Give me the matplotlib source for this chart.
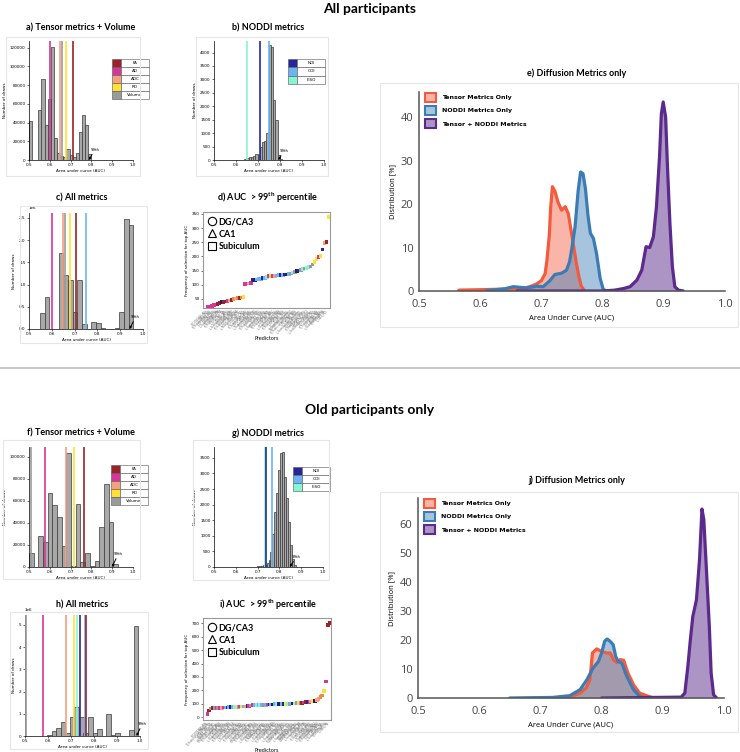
import matplotlib
matplotlib.use("Agg")
import matplotlib.pyplot as plt
from matplotlib.patches import Patch, Rectangle
from matplotlib.lines import Line2D

plt.rcParams["mathtext.fontset"] = "custom"
plt.rcParams["mathtext.rm"] = "Lato:bold"
plt.rcParams["mathtext.bf"] = "Lato:bold"

W, H = 740, 752

metric_colors = {
    "FA": "#9b2226", "AD": "#d6359a", "ADC": "#f5a07f", "RD": "#ffe135",
    "Volume": "#9a9a9a", "NDI": "#27279a", "ODI": "#6cb4f5", "FISO": "#86f5d3",
    "ORG": "#f08a3c", "NAVY": "#1f1f6e",
}
kde_colors = {"tensor": "#f35b3f", "noddi": "#3b7cb5", "both": "#5b2a8c"}

# ---- a) tensor + volume, all participants
a_left = [0.500, 0.545, 0.560, 0.575, 0.590, 0.605, 0.620, 0.635, 0.650,
          0.665, 0.680, 0.695, 0.710, 0.725, 0.740, 0.755, 0.770, 0.785]
a_counts = [42000, 53000, 86000, 37000, 65000, 121000, 24000, 7000, 4000,
            3000, 12000, 5000, 3000, 7000, 30000, 48000, 37000, 6000]
a_lines = [("AD", 0.600), ("ADC", 0.650), ("Volume", 0.660), ("RD", 0.680), ("FA", 0.710)]

# ---- b) NODDI, all participants
b_left = [0.637, 0.647, 0.657, 0.667, 0.677, 0.688, 0.698, 0.708, 0.718,
          0.728, 0.738, 0.748, 0.758, 0.769, 0.779, 0.789, 0.799]
b_counts = [20, 60, 100, 110, 150, 220, 180, 470, 680,
            700, 1015, 4270, 4210, 2250, 1490, 190, 40]
b_lines = [("FISO", 0.650), ("NDI", 0.707), ("ODI", 0.748)]

# ---- c) all metrics, all participants
c_left = [0.548, 0.5685, 0.589, 0.6095, 0.630, 0.6505, 0.671, 0.6915, 0.712, 0.7325,
          0.753, 0.7735, 0.794, 0.8145, 0.835, 0.8555, 0.876, 0.8965, 0.917, 0.9375]
c_counts = [370000, 710000, 0, 10000, 1700000, 1220000, 1110000, 380000, 1110000, 120000,
            0, 150000, 130000, 30000, 0, 0, 30000, 380000, 2470000, 2350000]
c_lines = [("AD", 0.600), ("ADC", 0.650), ("Volume", 0.660), ("RD", 0.682),
           ("FA", 0.708), ("ODI", 0.749)]

# ---- f) tensor + volume, old participants
f_left = [0.500, 0.5225, 0.545, 0.5675, 0.590, 0.6125, 0.635, 0.6575, 0.680, 0.7025,
          0.725, 0.7475, 0.770, 0.7925, 0.815, 0.8375, 0.860, 0.8825, 0.905]
f_counts = [13000, 0, 28000, 22500, 67000, 56000, 45000, 19000, 104000, 500,
            57000, 4500, 13000, 1000, 5000, 36000, 75000, 41000, 3000]
f_lines = [("Volume", 0.511), ("AD", 0.575), ("ADC", 0.676), ("RD", 0.715), ("FA", 0.764)]

# ---- g) NODDI, old participants
g_left = [0.660, 0.669, 0.678, 0.687, 0.696, 0.705, 0.714, 0.723, 0.732, 0.741,
          0.750, 0.759, 0.768, 0.777, 0.786, 0.795, 0.804, 0.813, 0.822, 0.831,
          0.840, 0.849, 0.858, 0.867]
g_counts = [10, 10, 15, 15, 20, 25, 40, 60, 80, 130,
            230, 470, 1050, 1780, 2360, 3100, 3650, 3700, 2900, 2200,
            1450, 700, 250, 60]
g_lines = [("FISO", 0.734), ("NDI", 0.738), ("ODI", 0.767)]

# ---- h) all metrics, old participants
h_left = [0.596, 0.616, 0.636, 0.655, 0.675, 0.695, 0.715, 0.735, 0.754, 0.774,
          0.794, 0.814, 0.834, 0.853, 0.873, 0.893, 0.913, 0.933, 0.952, 0.972]
h_counts = [30000, 220000, 380000, 650000, 150000, 870000, 1320000, 870000, 150000, 870000,
            130000, 330000, 0, 970000, 30000, 120000, 0, 0, 280000, 4970000]
h_lines = [("Volume", 0.506), ("AD", 0.577), ("ADC", 0.679), ("RD", 0.715), ("FISO", 0.725),
           ("NDI", 0.737), ("ODI", 0.762), ("FA", 0.766)]

# ---- d) / i) predictor selection frequency
d_freq = [22, 23, 25, 28, 30, 31, 35, 38, 40, 41,
          42, 45, 46, 50, 52, 53, 54, 55, 58, 103,
          104, 105, 107, 117, 118, 119, 120, 121, 123, 125,
          127, 130, 131, 132, 132, 133, 134, 135, 135, 136,
          136, 137, 140, 143, 146, 148, 150, 152, 155, 158,
          160, 162, 165, 172, 180, 190, 197, 202, 225, 248,
          250, 340]
d_cols = ["AD", "AD", "AD", "AD", "AD", "FA", "FA", "NAVY", "FA", "FA",
          "AD", "ADC", "FA", "ORG", "ADC", "ORG", "FA", "ORG", "RD", "AD",
          "AD", "ADC", "AD", "NDI", "NAVY", "ODI", "ODI", "ODI", "NDI", "ODI",
          "FISO", "AD", "RD", "AD", "ADC", "ODI", "ODI", "NDI", "ODI", "NDI",
          "NAVY", "ODI", "Volume", "FISO", "Volume", "NAVY", "NDI", "Volume", "FISO", "Volume",
          "FISO", "FISO", "Volume", "Volume", "RD", "RD", "AD", "RD", "NDI", "ADC",
          "FA", "RD"]
i_freq = [25, 50, 65, 66, 67, 68, 69, 70, 70, 71,
          72, 72, 73, 74, 75, 75, 76, 77, 78, 78,
          79, 80, 82, 84, 86, 88, 88, 89, 90, 90,
          91, 92, 92, 93, 94, 95, 95, 96, 96, 97,
          98, 98, 99, 100, 100, 100, 101, 101, 102, 103,
          104, 105, 106, 108, 110, 110, 112, 115, 118, 122,
          128, 135, 148, 160, 195, 265, 690, 702]
i_cols = ["AD", "FA", "Volume", "FA", "Volume", "AD", "Volume", "AD", "ADC", "AD",
          "ODI", "NDI", "ODI", "NAVY", "ODI", "FISO", "RD", "ODI", "AD", "RD",
          "ODI", "ADC", "NDI", "AD", "Volume", "AD", "ODI", "FISO", "ODI", "FISO",
          "ODI", "Volume", "ODI", "AD", "NDI", "ODI", "NAVY", "ODI", "FISO", "NDI",
          "NAVY", "ODI", "NDI", "RD", "FISO", "Volume", "ODI", "NAVY", "FISO", "Volume",
          "RD", "Volume", "FA", "AD", "FA", "NDI", "AD", "ADC", "RD", "NAVY",
          "ADC", "ADC", "ORG", "ORG", "RD", "AD", "FA", "FA"]
regions = ["DG/CA3", "CA1", "Subiculum"]

# ---- e) / j) AUC distributions (%)
e_tensor_x = [0.565, 0.60, 0.63, 0.67, 0.681, 0.692, 0.70, 0.706, 0.709, 0.713, 0.715, 0.718,
              0.722, 0.727, 0.733, 0.739, 0.744, 0.749, 0.753, 0.757, 0.761, 0.765, 0.770]
e_tensor_y = [0.2, 0.3, 0.4, 0.6, 1.0, 1.6, 2.4, 4.0, 7.0, 13.0, 19.0, 24.0,
              23.0, 20.5, 18.6, 19.4, 17.8, 13.5, 10.0, 6.5, 3.5, 1.2, 0.1]
e_noddi_x = [0.61, 0.64, 0.654, 0.676, 0.692, 0.703, 0.714, 0.722, 0.733, 0.741, 0.746, 0.750,
             0.755, 0.760, 0.764, 0.768, 0.772, 0.776, 0.780, 0.785, 0.790, 0.796, 0.801, 0.806]
e_noddi_y = [0.1, 0.5, 1.0, 0.7, 1.1, 1.0, 2.4, 3.8, 4.1, 4.8, 6.7, 10.0,
             14.8, 23.0, 27.4, 27.0, 23.5, 17.5, 13.3, 12.1, 8.7, 2.9, 0.4, 0.0]
e_both_x = [0.66, 0.80, 0.82, 0.835, 0.845, 0.856, 0.864, 0.868, 0.871, 0.877, 0.883, 0.888,
            0.893, 0.896, 0.899, 0.903, 0.906, 0.910, 0.914, 0.918, 0.924, 0.932]
e_both_y = [0.0, 0.0, 0.2, 0.6, 1.0, 2.5, 4.8, 7.9, 10.2, 10.0, 12.5, 19.4,
            30.9, 40.8, 43.5, 40.0, 28.6, 15.6, 5.6, 1.0, 0.2, 0.0]

j_tensor_x = [0.72, 0.75, 0.765, 0.775, 0.781, 0.785, 0.792, 0.80, 0.808, 0.814, 0.82, 0.825,
              0.830, 0.836, 0.843, 0.852, 0.862, 0.876, 0.885]
j_tensor_y = [0.0, 0.5, 1.7, 3.5, 6.3, 15.5, 16.9, 16.0, 15.5, 15.5, 13.0, 12.2,
              13.2, 13.0, 8.6, 4.6, 1.7, 0.6, 0.0]
j_noddi_x = [0.65, 0.72, 0.748, 0.765, 0.776, 0.786, 0.795, 0.80, 0.805, 0.809, 0.814, 0.819,
             0.823, 0.827, 0.833, 0.841, 0.852, 0.862, 0.870]
j_noddi_y = [0.0, 0.2, 0.8, 2.9, 6.3, 10.3, 12.6, 15.5, 19.5, 20.3, 19.5, 18.3,
             14.3, 12.6, 12.0, 7.5, 2.9, 0.6, 0.0]
j_both_x = [0.80, 0.93, 0.936, 0.941, 0.945, 0.949, 0.955, 0.960, 0.964, 0.967, 0.971, 0.976,
            0.979, 0.983, 0.988]
j_both_y = [0.0, 0.3, 1.7, 11.0, 20.0, 28.0, 33.8, 47.6, 65.0, 61.4, 45.3, 24.7,
            8.6, 1.1, 0.0]

auc_ticks = [0.5, 0.6, 0.7, 0.8, 0.9, 1.0]


def box(x0, y0, x1, y1):
    return [x0 / W, 1 - y1 / H, (x1 - x0) / W, (y1 - y0) / H]


fig = plt.figure(figsize=(W / 100, H / 100), dpi=100)


def frame(x0, y0, x1, y1):
    fig.add_artist(Rectangle((x0 / W, 1 - y1 / H), (x1 - x0) / W, (y1 - y0) / H,
                             transform=fig.transFigure, fill=False,
                             edgecolor="#e6e6e6", lw=0.8))


def ftext(x, y, s, size, **kw):
    fig.text(x / W, 1 - y / H, s, ha="center", va="center", fontsize=size,
             family="Lato", weight="bold", **kw)


def legend_table(rect, keys):
    lax = fig.add_axes(box(*rect))
    lax.axis("off")
    tab = lax.table(cellText=[["", k] for k in keys],
                    cellColours=[[metric_colors[k], "white"] for k in keys],
                    colWidths=[0.25, 0.75], bbox=[0, 0, 1, 1], cellLoc="center")
    tab.auto_set_font_size(False)
    tab.set_fontsize(3)
    for cell in tab.get_celld().values():
        cell.set_linewidth(0.4)
        cell.set_edgecolor("#555555")


def hist_panel(rect, lefts, counts, width, lines, ylim, yticks, p99):
    ax = fig.add_axes(box(*rect))
    ax.bar(lefts, counts, width=width, align="edge", color="#a8a8a8",
           edgecolor="#3a3a3a", linewidth=0.5, zorder=2)
    for key, x in lines:
        ax.axvline(x, color=metric_colors[key], lw=1.2, zorder=3)
    ax.set_xlim(0.5, 1.0)
    ax.set_ylim(*ylim)
    ax.set_xticks(auc_ticks)
    ax.set_yticks(yticks)
    ax.tick_params(labelsize=3, length=1.5, width=0.4, pad=1)
    ax.yaxis.get_offset_text().set_fontsize(3)
    for s in ("top", "right"):
        ax.spines[s].set_visible(False)
    for s in ("left", "bottom"):
        ax.spines[s].set_linewidth(0.5)
    ax.set_xlabel("Area under curve (AUC)", fontsize=3, labelpad=1)
    ax.set_ylabel("Number of draws", fontsize=3, labelpad=2)
    ax.annotate("99th", xy=(p99[0], 0), xytext=(p99[1], p99[2]), fontsize=2.8,
                annotation_clip=False,
                arrowprops=dict(arrowstyle="-|>", color="black", lw=0.7,
                                mutation_scale=3, shrinkA=0, shrinkB=0))
    return ax


def rank_panel(rect, freq, cols, ylim, yticks):
    ax = fig.add_axes(box(*rect))
    xs = list(range(len(freq)))
    ax.scatter(xs, freq, c=[metric_colors[c] for c in cols], s=7, marker="s",
               linewidths=0, zorder=3)
    ax.set_xlim(-2.4, len(freq) - 0.2)
    ax.set_ylim(*ylim)
    ax.set_yticks(yticks)
    names = {"NAVY": "NDI", "ORG": "ADC"}
    labels = ["%s_%s_%s" % ("L" if k % 2 else "R", regions[k % 3], names.get(c, c))
              for k, c in enumerate(cols)]
    ax.set_xticks(xs)
    ax.set_xticklabels(labels, rotation=45, ha="right", fontsize=2.2, color="#777777")
    ax.tick_params(axis="x", length=0, pad=0.5)
    ax.tick_params(axis="y", labelsize=3, length=1.5, width=0.4, pad=1)
    for s in ax.spines.values():
        s.set_color("#999999")
        s.set_linewidth(0.8)
    ax.set_ylabel("Frequency of selection for top AUC", fontsize=3, labelpad=2)
    ax.set_xlabel("Predictors", fontsize=3.5, labelpad=1)
    handles = [Line2D([], [], ls="none", marker=m, ms=6, mfc="none", mec="black", mew=0.8, label=l)
               for m, l in zip(["o", "^", "s"], regions)]
    ax.legend(handles=handles, loc="upper left", frameon=False, handlelength=0.8,
              handletextpad=0.3, labelspacing=0.35, borderaxespad=0.2,
              prop=dict(family="Lato", weight="bold", size=6.5))
    return ax


def kde_panel(rect, curves, ylim, yticks):
    ax = fig.add_axes(box(*rect))
    for xs, ys, key, a in curves:
        col = kde_colors[key]
        ax.fill_between(xs, ys, color=col, alpha=a, lw=0)
        ax.plot(xs, ys, color=col, lw=2.3, solid_joinstyle="round", solid_capstyle="round")
    ax.set_xlim(0.5, 1.0)
    ax.set_ylim(*ylim)
    ax.set_xticks(auc_ticks)
    ax.set_xticklabels(["%.1f" % t for t in auc_ticks])
    ax.set_yticks(yticks)
    ax.tick_params(length=0, labelsize=8, labelcolor="#444444")
    ax.tick_params(axis="x", pad=6)
    ax.tick_params(axis="y", pad=4)
    for lab in ax.get_xticklabels() + ax.get_yticklabels():
        lab.set_family("Open Sans")
    for s in ("top", "right"):
        ax.spines[s].set_visible(False)
    for s in ("left", "bottom"):
        ax.spines[s].set_linewidth(1.1)
        ax.spines[s].set_color("#555555")
    ax.set_xlabel("Area Under Curve (AUC)", fontsize=5.5, family="Open Sans", labelpad=3)
    ax.set_ylabel("Distribution [%]", fontsize=5.5, family="Open Sans", labelpad=3)
    handles = [Patch(facecolor=kde_colors[k], edgecolor=kde_colors[k], lw=1.5, label=l)
               for k, l in [("tensor", "Tensor Metrics Only"), ("noddi", "NODDI Metrics Only"),
                            ("both", "Tensor + NODDI Metrics")]]
    for hnd, a in zip(handles, [0.45, 0.45, 0.5]):
        r, g, b, _ = matplotlib.colors.to_rgba(kde_colors[[k for k in kde_colors][handles.index(hnd)]])
        hnd.set_facecolor((r, g, b, a))
    ax.legend(handles=handles, loc="upper left", bbox_to_anchor=(0.01, 1.01), frameon=False,
              handlelength=1.9, handleheight=1.9, handletextpad=0.95, labelspacing=0.65,
              borderaxespad=0, prop=dict(family="DejaVu Sans", weight="bold", size=4.5))
    return ax


# frames and separators
for fr in [(6, 37, 140, 176), (196, 37, 328, 176), (20, 206, 147, 343), (380, 83, 738, 327),
           (3, 440, 140, 579), (193, 440, 329, 580), (10, 612, 148, 749), (380, 492, 738, 732)]:
    frame(*fr)
fig.add_artist(Line2D([0, 1], [1 - 368 / H] * 2, transform=fig.transFigure,
                      color="#c8c8c8", lw=1.5))

ftext(370, 9, "All participants", 10)
ftext(370, 410, "Old participants only", 10)
ftext(81, 28, "a) Tensor metrics + Volume", 6.5)
ftext(268, 28, "b) NODDI metrics", 6.5)
ftext(82, 198, "c) All metrics", 6.5)
ftext(268, 198, "d) AUC  > 99$^{\\mathrm{th}}$ percentile", 6.5)
ftext(577, 73, "e) Diffusion Metrics only", 6.5)
ftext(81, 433, "f) Tensor metrics + Volume", 6.5)
ftext(268, 433, "g) NODDI metrics", 6.5)
ftext(82, 605, "h) All metrics", 6.5)
ftext(268, 605, "i) AUC  > 99$^{\\mathrm{th}}$ percentile", 6.5)
ftext(577, 480, "j) Diffusion Metrics only", 6.5)

hist_panel((29, 41, 133, 160), a_left, a_counts, 0.015, a_lines, (0, 127000),
           [0, 20000, 40000, 60000, 80000, 100000, 120000], (0.788, 0.795, 10000))
legend_table((112, 59, 149, 99), ["FA", "AD", "ADC", "RD", "Volume"])

hist_panel((214, 41, 324, 160), b_left, b_counts, 0.0102, b_lines, (0, 4430),
           [0, 500, 1000, 1500, 2000, 2500, 3000, 3500, 4000], (0.793, 0.797, 300))
legend_table((288, 59, 325, 84), ["NDI", "ODI", "FISO"])

hist_panel((29, 213, 143, 329), c_left, c_counts, 0.0205, c_lines, (0, 2.61e6),
           [0, 0.5e6, 1.0e6, 1.5e6, 2.0e6, 2.5e6], (0.941, 0.948, 0.25e6))

rank_panel((203, 212, 330, 308), d_freq, d_cols, (18, 357), [50, 100, 150, 200, 250, 300, 350])

kde_panel((419, 92, 725, 291),
          [(e_tensor_x, e_tensor_y, "tensor", 0.45), (e_noddi_x, e_noddi_y, "noddi", 0.45),
           (e_both_x, e_both_y, "both", 0.5)], (0, 45.8), [0, 10, 20, 30, 40])

hist_panel((29, 447, 133, 567), f_left, f_counts, 0.0225, f_lines, (0, 109000),
           [0, 20000, 40000, 60000, 80000, 100000], (0.900, 0.907, 11000))
legend_table((111, 465, 148, 505), ["FA", "AD", "ADC", "RD", "Volume"])

hist_panel((214, 447, 323, 567), g_left, g_counts, 0.009, g_lines, (0, 3850),
           [0, 500, 1000, 1500, 2000, 2500, 3000, 3500], (0.848, 0.857, 300))
legend_table((293, 467, 330, 491), ["NDI", "ODI", "FISO"])

hist_panel((25, 615, 140, 736), h_left, h_counts, 0.0198, h_lines, (0, 5.45e6),
           [0, 1e6, 2e6, 3e6, 4e6, 5e6], (0.985, 0.99, 0.5e6))

rank_panel((203, 618, 331, 720), i_freq, i_cols, (-22, 740), [0, 100, 200, 300, 400, 500, 600, 700])

kde_panel((418, 498, 724, 698),
          [(j_tensor_x, j_tensor_y, "tensor", 0.45), (j_noddi_x, j_noddi_y, "noddi", 0.45),
           (j_both_x, j_both_y, "both", 0.5)], (0, 68.8), [0, 10, 20, 30, 40, 50, 60])

fig.savefig("out.png", dpi=100)
